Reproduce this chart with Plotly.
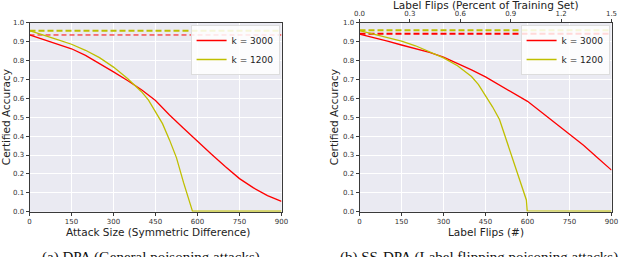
import plotly.graph_objects as go

# ---------------- data ----------------
grid_x = [0, 50, 100, 150, 200, 250, 300, 350, 400, 450, 500, 550, 600, 650, 700, 750, 800, 850, 900]

dpa_k3000 = [0.935, 0.912, 0.888, 0.862, 0.827, 0.785, 0.740, 0.694, 0.645, 0.588, 0.512, 0.442,
             0.372, 0.304, 0.238, 0.175, 0.126, 0.085, 0.055]

dpa_k1200_x = [0, 50, 100, 150, 200, 250, 300, 350, 400, 425, 450, 475, 500, 525, 550, 575, 582, 600, 750, 900]
dpa_k1200 = [0.958, 0.936, 0.910, 0.886, 0.854, 0.815, 0.765, 0.705, 0.635, 0.590, 0.530, 0.466,
             0.380, 0.285, 0.155, 0.025, 0.003, 0.003, 0.003, 0.003]

ss_k3000 = [0.940, 0.923, 0.903, 0.882, 0.862, 0.843, 0.818, 0.786, 0.750, 0.713, 0.671, 0.628,
            0.584, 0.526, 0.467, 0.408, 0.352, 0.286, 0.220]

ss_k1200_x = [0, 50, 100, 150, 200, 250, 300, 350, 400, 425, 450, 475, 500, 525, 550, 575, 590, 596, 599, 750, 900]
ss_k1200 = [0.958, 0.940, 0.918, 0.903, 0.878, 0.848, 0.814, 0.772, 0.715, 0.672, 0.615, 0.555,
            0.488, 0.378, 0.260, 0.150, 0.090, 0.062, 0.004, 0.003, 0.003]

dpa_clean = {"k = 3000": 0.935, "k = 1200": 0.958}
ss_clean = {"k = 3000": 0.942, "k = 1200": 0.960}

x_ticks = [0, 150, 300, 450, 600, 750, 900]
y_ticks = [0.0, 0.1, 0.2, 0.3, 0.4, 0.5, 0.6, 0.7, 0.8, 0.9, 1.0]
top_ticks = [0.0, 0.3, 0.6, 0.9, 1.2, 1.5]

RED = "#FF0000"
YEL = "#BFBF00"
FONT = "DejaVu Sans"

fig = go.Figure()

# left panel
fig.add_trace(go.Scatter(x=[0, 900], y=[dpa_clean["k = 3000"]] * 2, mode="lines",
                         line=dict(color=RED, width=1, dash="5px,3px"), showlegend=False,
                         xaxis="x", yaxis="y"))
fig.add_trace(go.Scatter(x=[0, 900], y=[dpa_clean["k = 1200"]] * 2, mode="lines",
                         line=dict(color=YEL, width=2, dash="6px,3px"), showlegend=False,
                         xaxis="x", yaxis="y"))
fig.add_trace(go.Scatter(x=grid_x, y=dpa_k3000, mode="lines", name="k = 3000",
                         line=dict(color=RED, width=1.3), xaxis="x", yaxis="y", legend="legend"))
fig.add_trace(go.Scatter(x=dpa_k1200_x, y=dpa_k1200, mode="lines", name="k = 1200",
                         line=dict(color=YEL, width=1.3), xaxis="x", yaxis="y", legend="legend"))

# right panel
fig.add_trace(go.Scatter(x=[0, 900], y=[ss_clean["k = 3000"]] * 2, mode="lines",
                         line=dict(color=RED, width=2, dash="6px,3px"), showlegend=False,
                         xaxis="x2", yaxis="y2"))
fig.add_trace(go.Scatter(x=[0, 900], y=[ss_clean["k = 1200"]] * 2, mode="lines",
                         line=dict(color=YEL, width=2, dash="6px,3px"), showlegend=False,
                         xaxis="x2", yaxis="y2"))
fig.add_trace(go.Scatter(x=grid_x, y=ss_k3000, mode="lines", name="k = 3000",
                         line=dict(color=RED, width=1.3), xaxis="x2", yaxis="y2", legend="legend2"))
fig.add_trace(go.Scatter(x=ss_k1200_x, y=ss_k1200, mode="lines", name="k = 1200",
                         line=dict(color=YEL, width=1.3), xaxis="x2", yaxis="y2", legend="legend2"))
# carrier for top axis
fig.add_trace(go.Scatter(x=[top_ticks[0], top_ticks[-1]], y=[0.5, 0.5], mode="lines",
                         line=dict(width=0), opacity=0, showlegend=False, hoverinfo="skip",
                         xaxis="x3", yaxis="y2"))

W, H = 640, 257
L1, R1 = 29.5, 281.5
L2, R2 = 359.5, 611.5
TOP, BOT = 22.7, 211.7

ydom = [1 - BOT / H, 1 - TOP / H]

axis_common = dict(
    showgrid=True, gridcolor="white", gridwidth=1,
    showline=True, linecolor="#3a3a3a", linewidth=1, mirror=True,
    ticks="outside", ticklen=3, tickcolor="#3a3a3a", tickwidth=1,
    tickfont=dict(family=FONT, size=7, color="#333"),
    zeroline=False, automargin=False,
)

title_font = dict(family=FONT, size=10.5, color="#222")
cap_font = dict(family="Liberation Serif", size=15, color="#111")


def ann(text, px, py, font, angle=0, yanchor="middle"):
    return dict(text=text, x=px / W, y=1 - py / H, xref="paper", yref="paper",
                xanchor="center", yanchor=yanchor, showarrow=False, font=font,
                textangle=angle, borderpad=0)


fig.update_layout(
    width=W, height=H,
    margin=dict(l=0, r=0, t=0, b=0, autoexpand=False),
    paper_bgcolor="white",
    plot_bgcolor="#EAEAF2",
    font=dict(family=FONT),
    hovermode=False,
    xaxis=dict(domain=[L1 / W, R1 / W], range=[0, 900], tickvals=x_ticks, anchor="y",
               **axis_common),
    yaxis=dict(domain=ydom, range=[0, 1.0], tickvals=y_ticks, tickformat=".1f", anchor="x",
               **axis_common),
    xaxis2=dict(domain=[L2 / W, R2 / W], range=[0, 900], tickvals=x_ticks, anchor="y2",
                **axis_common),
    yaxis2=dict(domain=ydom, range=[0, 1.0], tickvals=y_ticks, tickformat=".1f", anchor="x2",
                **axis_common),
    xaxis3=dict(overlaying="x2", side="top", range=[0, 1.5], tickvals=top_ticks, tickformat=".1f",
                anchor="y2", showgrid=False, showline=False, zeroline=False, automargin=False,
                ticks="outside", ticklen=3, tickcolor="#3a3a3a",
                tickfont=dict(family=FONT, size=7, color="#333")),
    legend=dict(x=R1 / W - 0.003, y=1 - 25 / H, xanchor="right", yanchor="top",
                bgcolor="rgba(255,255,255,0.85)", bordercolor="#dddddd", borderwidth=1,
                font=dict(family=FONT, size=9, color="#222"), tracegroupgap=0,
                itemwidth=30),
    legend2=dict(x=R2 / W - 0.003, y=1 - 25 / H, xanchor="right", yanchor="top",
                 bgcolor="rgba(255,255,255,0.85)", bordercolor="#dddddd", borderwidth=1,
                 font=dict(family=FONT, size=9, color="#222"), tracegroupgap=0,
                 itemwidth=30),
    annotations=[
        ann("Label Flips (Percent of Training Set)", (L2 + R2) / 2, 5, title_font),
        ann("Certified Accuracy", 6, (TOP + BOT) / 2, title_font, angle=-90),
        ann("Certified Accuracy", 334, (TOP + BOT) / 2, title_font, angle=-90),
        ann("Attack Size (Symmetric Difference)", (L1 + R1) / 2 + 2, 231.5, title_font),
        ann("Label Flips (#)", (L2 + R2) / 2, 231.5, title_font),
        ann("(a) DPA (General poisoning attacks)", 151, 248, cap_font, yanchor="top"),
        ann("(b) SS-DPA (Label flipping poisoning attacks)", 479, 248, cap_font, yanchor="top"),
    ],
)

fig.write_html("out.html", config={"displayModeBar": False},
               post_script="document.body.style.margin='0px';document.body.style.padding='0px';")
